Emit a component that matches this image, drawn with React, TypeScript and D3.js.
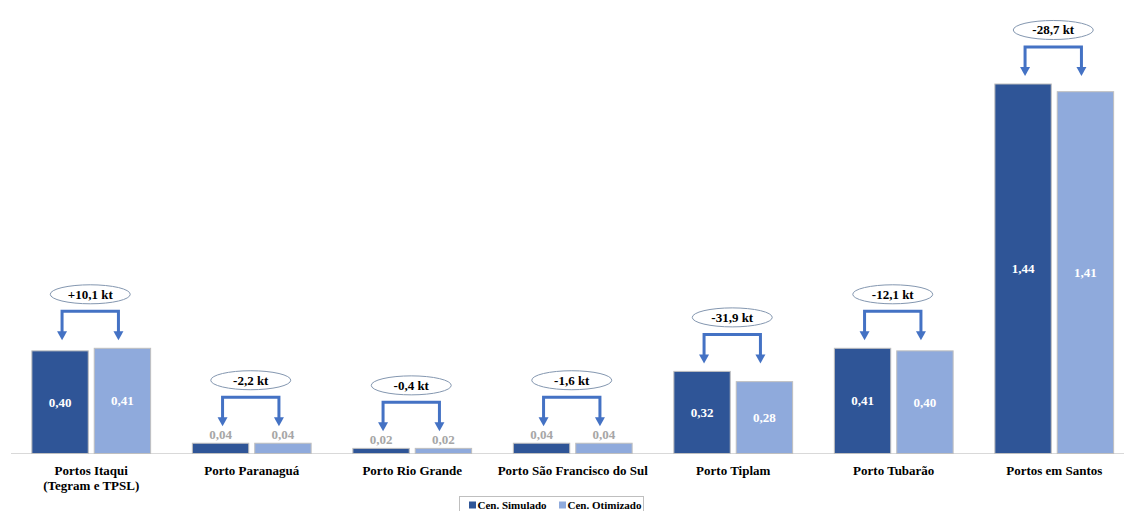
import React from "react";
import * as d3 from "d3";

// Port names (multi-line labels split on \n)
const categories = [
  "Portos Itaqui\n(Tegram e TPSL)",
  "Porto Paranaguá",
  "Porto Rio Grande",
  "Porto São Francisco do Sul",
  "Porto Tiplam",
  "Porto Tubarão",
  "Portos em Santos",
];

const seriesNames = ["Cen. Simulado", "Cen. Otimizado"];
const simulado = [0.4, 0.04, 0.02, 0.04, 0.32, 0.41, 1.44];
const otimizado = [0.41, 0.04, 0.02, 0.04, 0.28, 0.4, 1.41];
const deltas = ["+10,1 kt", "-2,2 kt", "-0,4 kt", "-1,6 kt", "-31,9 kt", "-12,1 kt", "-28,7 kt"];

const W = 1124;
const H = 511;
const colors = ["#2F5597", "#8FAADC"];
const arrowColor = "#4472C4";
const font = "'Times New Roman', 'Liberation Serif', 'DejaVu Serif', serif";

const fmt = (v: number) => v.toFixed(2).replace(".", ",");

export default function App() {
  const x = d3
    .scaleBand<string>()
    .domain(categories)
    .range([11, 1134.5])
    .paddingInner(0.26)
    .paddingOuter(0.13);
  const xs = d3
    .scaleBand<string>()
    .domain(seriesNames)
    .range([0, x.bandwidth()])
    .paddingInner(0.096);
  const y = d3.scaleLinear().domain([0, 1.5]).range([453.5, 68.6]);
  const values = [simulado, otimizado];
  const ts = { fontFamily: font, fontWeight: 700 } as React.CSSProperties;

  return (
    <svg
      width={W}
      height={H}
      style={{ position: "absolute", left: 0, top: 0, background: "#fff" }}
    >
      {/* baseline */}
      <line x1={11} x2={W} y1={y(0)} y2={y(0)} stroke="#D9D9D9" strokeWidth={1} />

      {categories.map((c, i) => {
        const gx = x(c)!;
        const bars = seriesNames.map((s, k) => {
          const v = values[k][i];
          const bx = gx + xs(s)!;
          const top = y(v);
          const h = y(0) - top;
          const inside = h > 30;
          return (
            <g key={s}>
              <rect
                x={bx}
                y={top}
                width={xs.bandwidth()}
                height={h}
                fill={colors[k]}
                stroke="#BFBFBF"
                strokeWidth={1}
              />
              <text
                x={bx + xs.bandwidth() / 2}
                y={inside ? top + h / 2 + 4.5 : top - 4}
                textAnchor="middle"
                fontSize={13}
                style={ts}
                fill={inside ? "#FFFFFF" : "#A6A6A6"}
              >
                {fmt(v)}
              </text>
            </g>
          );
        });

        // annotation bracket with the difference between scenarios
        const maxV = Math.max(simulado[i], otimizado[i]);
        const labelOutside = y(0) - y(Math.min(simulado[i], otimizado[i])) <= 30;
        const tipY = y(maxV) - (labelOutside ? 17 : 8);
        const bracketY = tipY - 29;
        const x1 = gx + xs(seriesNames[0])! + xs.bandwidth() / 2 + 2;
        const x2 = gx + xs(seriesNames[1])! + xs.bandwidth() / 2 - 4;
        const cx = (x1 + x2) / 2;
        const cy = bracketY - 17;
        const head = (ax: number) =>
          `M${ax - 5},${tipY - 9} L${ax + 5},${tipY - 9} L${ax},${tipY} Z`;

        const lines = c.split("\n");
        return (
          <g key={c}>
            {bars}
            <path
              d={`M${x1},${tipY - 8} L${x1},${bracketY} L${x2},${bracketY} L${x2},${tipY - 8}`}
              fill="none"
              stroke={arrowColor}
              strokeWidth={3}
            />
            <path d={head(x1)} fill={arrowColor} />
            <path d={head(x2)} fill={arrowColor} />
            <ellipse cx={cx} cy={cy} rx={40} ry={9.5} fill="#fff" stroke="#8497B0" strokeWidth={1} />
            <text x={cx} y={cy + 4.5} textAnchor="middle" fontSize={13} style={ts} fill="#000">
              {deltas[i]}
            </text>
            {lines.map((l, j) => (
              <text
                key={j}
                x={gx + x.bandwidth() / 2}
                y={474.5 + j * 15.5}
                textAnchor="middle"
                fontSize={13}
                style={ts}
                fill="#000"
              >
                {l}
              </text>
            ))}
          </g>
        );
      })}

      {/* legend */}
      <rect x={459.5} y={496.5} width={184} height={20} fill="#fff" stroke="#BFBFBF" strokeWidth={1} />
      {seriesNames.map((s, k) => (
        <g key={s}>
          <rect x={469 + k * 90} y={501.5} width={7} height={7} fill={colors[k]} />
          <text x={477.5 + k * 90} y={508.5} fontSize={11} style={ts} fill="#000">
            {s}
          </text>
        </g>
      ))}
    </svg>
  );
}
